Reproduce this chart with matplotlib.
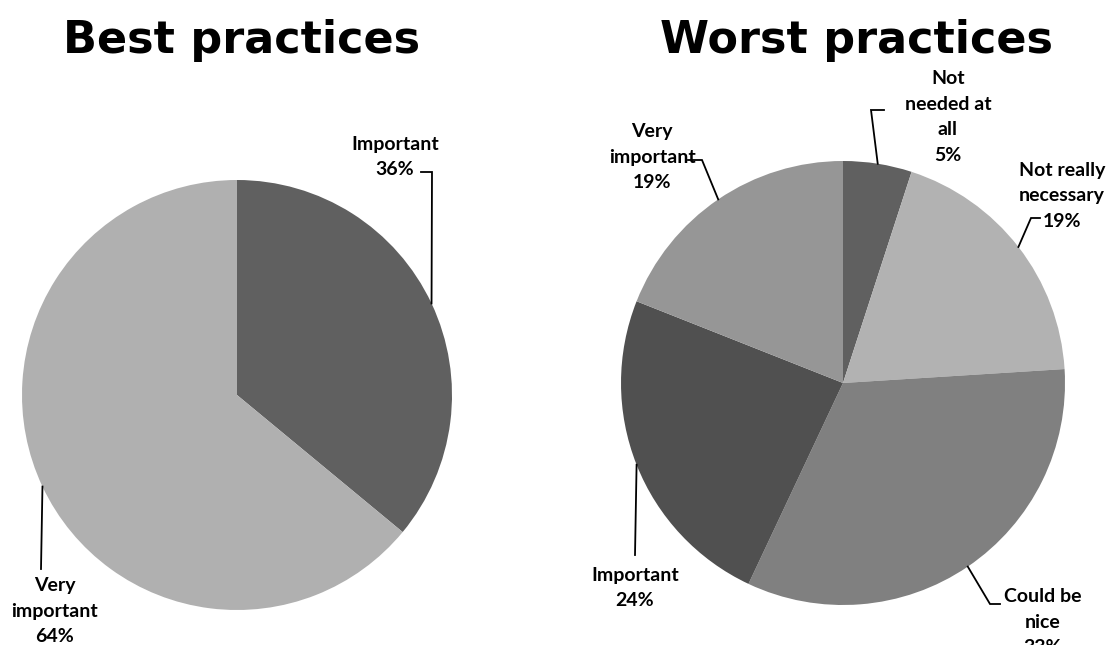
import numpy as np
import matplotlib
matplotlib.use("Agg")
import matplotlib.pyplot as plt

# Data
best_labels = ["Important", "Very\nimportant"]
best_values = [36, 64]
best_colors = ["#606060", "#b0b0b0"]

worst_labels = ["Not\nneeded at\nall", "Not really\nnecessary", "Could be\nnice", "Important", "Very\nimportant"]
worst_values = [5, 19, 33, 24, 19]
worst_colors = ["#606060", "#b2b2b2", "#808080", "#505050", "#969696"]

W, H = 1112, 645
fig = plt.figure(figsize=(W / 100, H / 100), dpi=100)
ax = fig.add_axes([0, 0, 1, 1])

label_font = dict(family=["Lato", "DejaVu Sans"], fontsize=14, fontweight="bold",
                  ha="center", va="center", linespacing=1.6)


def draw_pie(values, colors, center, radius):
    # y axis is inverted, so counterclock=True runs clockwise on screen
    wedges, _ = ax.pie(values, colors=colors, center=center, radius=radius,
                       startangle=-90, counterclock=True,
                       wedgeprops=dict(linewidth=0))
    rims = []
    for w in wedges:
        mid = np.deg2rad((w.theta1 + w.theta2) / 2)
        rims.append((center[0] + radius * np.cos(mid), center[1] + radius * np.sin(mid)))
    return rims


def label(text, value, pos, path, rim):
    ax.text(pos[0], pos[1], f"{text}\n{value}%", **label_font)
    xs = [p[0] for p in path] + [rim[0]]
    ys = [p[1] for p in path] + [rim[1]]
    ax.plot(xs, ys, color="black", lw=1.3, solid_joinstyle="miter")


# left pie
rims = draw_pie(best_values, best_colors, (237, 395), 215)
label(best_labels[0], best_values[0], (395, 157), [(421, 172), (432, 172)], rims[0])
label(best_labels[1], best_values[1], (55, 611), [(41, 569)], rims[1])

# right pie
rims = draw_pie(worst_values, worst_colors, (843, 383), 222)
label(worst_labels[0], worst_values[0], (948, 117), [(884, 110), (871, 110)], rims[0])
label(worst_labels[1], worst_values[1], (1062, 196), [(1040, 218), (1031, 218)], rims[1])
label(worst_labels[2], worst_values[2], (1043, 622), [(1000, 604), (990, 604)], rims[2])
label(worst_labels[3], worst_values[3], (635, 588), [(635, 555)], rims[3])
label(worst_labels[4], worst_values[4], (652, 157), [(688, 160), (702, 160)], rims[4])

title_font = dict(family="DejaVu Sans", fontsize=32, fontweight="bold", ha="center", va="baseline")
ax.text(242, 53, "Best practices", **title_font)
ax.text(857, 53, "Worst practices", **title_font)

# pie() resets the view, so fix the pixel frame afterwards
ax.set_xlim(0, W)
ax.set_ylim(H, 0)
ax.set_aspect("equal")
ax.axis("off")

fig.savefig("out.png", dpi=100)
